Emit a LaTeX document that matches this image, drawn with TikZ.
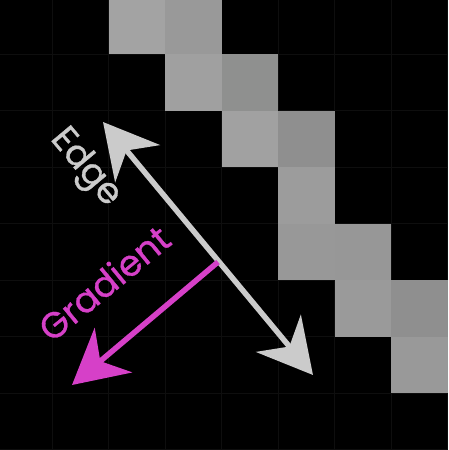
\documentclass[tikz,border=0pt]{standalone}
\usepackage{fontspec}
\setmainfont{Poppins}
\newfontfamily\lblfont{Poppins}[FakeBold=0.8]
\usetikzlibrary{arrows.meta}
\definecolor{edgegray}{HTML}{CBCBCB}
\definecolor{gradmag}{HTML}{D640C8}
\definecolor{gridline}{HTML}{0E0E0E}
\tikzset{
  edgearrow/.style={draw=edgegray,line width=5.5pt,{Stealth[length=54pt,width=58pt,inset=17pt]}-{Stealth[length=54pt,width=58pt,inset=17pt]}},
  gradarrow/.style={draw=gradmag,line width=5.5pt,-{Stealth[length=54pt,width=58pt,inset=17pt]}},
  lbl/.style={inner sep=0pt,font=\lblfont\fontsize{36}{40}\selectfont}
}
\begin{document}
\begin{tikzpicture}[x=1pt,y=-1pt]
\useasboundingbox (0,0) rectangle (448,450);
\fill[black] (0,0) rectangle (448,450);
% faint grid
\foreach \k in {0,...,8} {
  \draw[gridline,line width=0.8pt] ({-4.5+56.5*\k},0) -- ({-4.5+56.5*\k},450);
  \draw[gridline,line width=0.8pt] (0,{-2.5+56.5*\k}) -- (448,{-2.5+56.5*\k});
}
% pixel squares: row, column, colour
\foreach \r/\c/\col in {0/2/A3A3A3,0/3/999999,1/3/A0A0A0,1/4/8F908F,2/4/A1A1A1,2/5/8F8F8F,3/5/9C9C9C,4/5/989898,4/6/979797,5/6/9A9A9A,5/7/8F8F8F,6/7/999999} {
  \definecolor{pc}{HTML}{\col}
  \fill[pc] ({-4.5+56.5*\c},{-2.5+56.5*\r}) rectangle ++(56.5,56.5);
}
% arrows
\coordinate (eA) at (103,122);
\coordinate (eB) at (313,375);
\coordinate (gS) at (218,262);
\coordinate (gE) at (72,385);
\draw[edgearrow] (eA) -- (eB);
\draw[gradarrow] (gS) -- (gE);
% labels
\node[lbl,text=edgegray,rotate=-50] (edgelbl) at (85,168) {Edge};
\node[lbl,text=gradmag,rotate=39.4] (gradlbl) at (104,283) {Gradient};
\end{tikzpicture}
\end{document}
